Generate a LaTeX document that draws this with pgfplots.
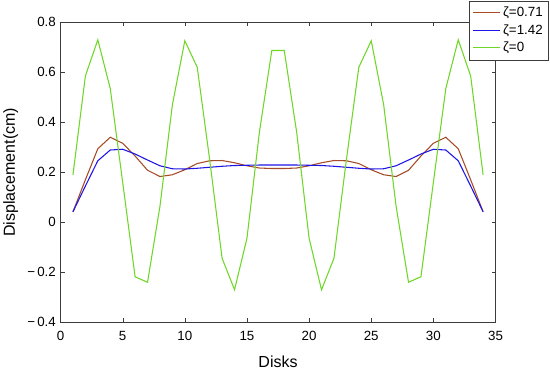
\documentclass[border=0pt]{standalone}
\usepackage{pgfplots}
\pgfplotsset{compat=1.18}
\usepackage{fontspec}
\setmainfont{Liberation Sans}
\definecolor{cbrown}{RGB}{165,75,40}
\definecolor{cblue}{RGB}{30,20,230}
\definecolor{cgreen}{RGB}{110,215,40}
\definecolor{axgray}{RGB}{60,60,60}
\begin{document}
\begin{tikzpicture}
\begin{axis}[
 scale only axis, width=326.25pt, height=225pt,
 xmin=0, xmax=35, ymin=-0.4, ymax=0.8,
 xtick={0,5,...,35}, ytick={-0.4,-0.2,0,0.2,0.4,0.6,0.8},
 yticklabels={−\,0.4,−\,0.2,0,0.2,0.4,0.6,0.8},
 /pgf/number format/assume math mode=true,
 tick align=inside, major tick length=3pt,
 axis line style={axgray}, tick style={axgray},
 tick label style={font=\fontsize{10}{12}\selectfont},
 xticklabel style={yshift=-3pt},
 label style={font=\fontsize{12}{14}\selectfont},
 xlabel={Disks}, ylabel={Displacement(cm)},
 xlabel style={yshift=-5pt},
 legend cell align=left,
 legend image code/.code={\draw[#1] (0cm,0cm) -- (0.7cm,0cm);},
 legend style={at={(rel axis cs:1,1)}, anchor=north east, xshift=40.1pt, yshift=16.3pt,
   font=\fontsize{10}{12}\selectfont, draw=axgray, inner sep=2.5pt, row sep=0.5pt},
]
\addplot[cbrown, line width=0.8pt] coordinates {(1,0.042)(2,0.17)(3,0.294)(4,0.34)(5,0.316)(6,0.265)(7,0.208)(8,0.183)(9,0.19)(10,0.21)(11,0.235)(12,0.246)(13,0.247)(14,0.238)(15,0.226)(16,0.217)(17,0.215)(18,0.215)(19,0.217)(20,0.226)(21,0.238)(22,0.247)(23,0.246)(24,0.235)(25,0.21)(26,0.19)(27,0.183)(28,0.208)(29,0.265)(30,0.316)(31,0.34)(32,0.294)(33,0.17)(34,0.042)};
\addlegendentry{ζ=0.71}
\addplot[cblue, line width=0.8pt] coordinates {(1,0.042)(2,0.145)(3,0.246)(4,0.289)(5,0.292)(6,0.273)(7,0.249)(8,0.226)(9,0.214)(10,0.213)(11,0.216)(12,0.22)(13,0.224)(14,0.227)(15,0.228)(16,0.229)(17,0.229)(18,0.229)(19,0.229)(20,0.228)(21,0.227)(22,0.224)(23,0.22)(24,0.216)(25,0.213)(26,0.214)(27,0.226)(28,0.249)(29,0.273)(30,0.292)(31,0.289)(32,0.246)(33,0.145)(34,0.042)};
\addlegendentry{ζ=1.42}
\addplot[cgreen, line width=0.8pt] coordinates {(1,0.19)(2,0.585)(3,0.73)(4,0.535)(5,0.16)(6,-0.218)(7,-0.24)(8,0.064)(9,0.47)(10,0.726)(11,0.62)(12,0.25)(13,-0.144)(14,-0.27)(15,-0.064)(16,0.36)(17,0.687)(18,0.687)(19,0.36)(20,-0.064)(21,-0.27)(22,-0.144)(23,0.25)(24,0.62)(25,0.726)(26,0.47)(27,0.064)(28,-0.24)(29,-0.218)(30,0.16)(31,0.535)(32,0.73)(33,0.585)(34,0.19)};
\addlegendentry{ζ=0}
\end{axis}
\pgfresetboundingbox
\path[use as bounding box] (-45.4pt,-35.25pt) rectangle (367.1pt,241.7pt);
\end{tikzpicture}
\end{document}
